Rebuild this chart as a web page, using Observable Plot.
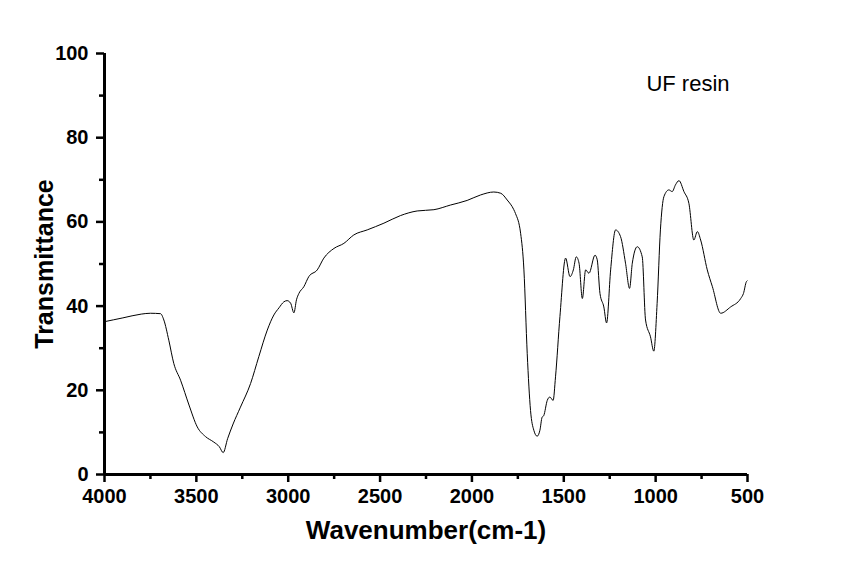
<!DOCTYPE html>
<html>
<head>
<meta charset="utf-8">
<script src="https://cdn.jsdelivr.net/npm/d3@7"></script>
<script src="https://cdn.jsdelivr.net/npm/@observablehq/plot@0.6"></script>
<style>
  html, body { margin: 0; padding: 0; background: #fff; }
  #chart svg { font-family: "Liberation Sans", Arial, sans-serif; }
  #chart svg [aria-label="x-axis tick label"] text,
  #chart svg [aria-label="y-axis tick label"] text { font-size: 20px; font-weight: bold; fill: #000; }
  #chart svg [aria-label="x-axis label"] text { font-size: 26px; font-weight: bold; fill: #000; }
  #chart svg [aria-label="y-axis label"] text { font-size: 25px; font-weight: bold; fill: #000; }
</style>
</head>
<body>
<div id="chart"></div>
<script>
// Wavenumber (cm-1) and transmittance
const wavenumber = [4000, 3900, 3800, 3750, 3695, 3677, 3650, 3623, 3586, 3540, 3495, 3450, 3405, 3375, 3354, 3330, 3300, 3260, 3205, 3160, 3114, 3078, 3050, 3024, 3006, 2987, 2969, 2955, 2942, 2915, 2888, 2842, 2806, 2751, 2697, 2643, 2570, 2479, 2389, 2298, 2207, 2117, 2026, 1953, 1881, 1843, 1808, 1772, 1763, 1735, 1717, 1699, 1681, 1663, 1645, 1630, 1618, 1609, 1590, 1576, 1558, 1545, 1521, 1490, 1466, 1448, 1432, 1417, 1399, 1381, 1363, 1330, 1318, 1303, 1282, 1267, 1245, 1218, 1191, 1164, 1142, 1127, 1100, 1073, 1055, 1028, 1010, 992, 974, 955, 928, 910, 892, 873, 846, 819, 792, 773, 755, 719, 691, 646, 592, 537, 522, 506, 502];
const transmittance = [36.3, 37.2, 38.1, 38.3, 38.2, 36.7, 31.9, 26.4, 22.4, 16.5, 11.3, 9.0, 7.7, 6.6, 5.2, 8.5, 12.0, 16.0, 21.6, 28.0, 34.3, 37.9, 39.6, 41.0, 41.3, 40.7, 38.4, 41.5, 43.0, 44.6, 47.0, 48.6, 51.4, 53.7, 54.9, 56.9, 58.1, 59.7, 61.5, 62.6, 62.9, 64.0, 65.1, 66.4, 67.1, 66.8, 65.2, 62.9, 62.0, 57.3, 48.6, 28.7, 15.2, 10.5, 9.1, 10.5, 13.6, 14.0, 17.6, 18.4, 17.6, 23.2, 37.5, 51.4, 47.0, 48.6, 51.7, 50.2, 41.8, 48.6, 47.8, 52.1, 51.0, 43.0, 39.8, 36.0, 48.6, 58.1, 56.5, 50.2, 44.2, 50.2, 54.1, 51.7, 36.7, 32.7, 29.3, 40.6, 58.1, 66.0, 67.6, 67.2, 68.8, 69.8, 67.2, 64.4, 55.7, 57.7, 55.7, 48.6, 44.6, 38.3, 39.8, 41.8, 43.0, 45.8, 46.0];

const xTicks = [4000, 3500, 3000, 2500, 2000, 1500, 1000, 500];
const xMinorTicks = [3750, 3250, 2750, 2250, 1750, 1250, 750];
const yTicks = [0, 20, 40, 60, 80, 100];
const yMinorTicks = [10, 30, 50, 70, 90];
const annotation = ["UF resin"];

const data = wavenumber.map((w, i) => ({w, t: transmittance[i]}));

const chart = Plot.plot({
  width: 844,
  height: 564,
  marginLeft: 104,
  marginRight: 97,
  marginTop: 53,
  marginBottom: 90,
  style: {fontFamily: "Liberation Sans, Arial, sans-serif", background: "#fff", color: "#000"},
  x: {domain: [4000, 500]},
  y: {domain: [0, 100]},
  marks: [
    Plot.axisX({ticks: xMinorTicks, tickSize: 5, strokeWidth: 2.5, text: null, label: null}),
    Plot.axisY({ticks: yMinorTicks, tickSize: 5, strokeWidth: 2.5, text: null, label: null}),
    Plot.axisX({ticks: xTicks, tickSize: 8, strokeWidth: 2.5, tickPadding: 6, tickFormat: d => String(d),
      label: "Wavenumber(cm-1)", labelAnchor: "center", labelArrow: "none", labelOffset: 64}),
    Plot.axisY({ticks: yTicks, tickSize: 8, strokeWidth: 2.5, tickPadding: 8, tickFormat: d => String(d),
      label: "Transmittance", labelAnchor: "center", labelArrow: "none", labelOffset: 69}),
    Plot.ruleY([0], {stroke: "#000", strokeWidth: 3}),
    Plot.ruleX([4000], {stroke: "#000", strokeWidth: 3}),
    Plot.line(data, {x: "w", y: "t", stroke: "#000", strokeWidth: 1, curve: "monotone-x"}),
    Plot.text(annotation, {text: d => d, frameAnchor: "top-right", dx: -18, dy: 22, textAnchor: "end", fontSize: 22, fill: "#000"})
  ]
});
document.getElementById("chart").appendChild(chart);
</script>
</body>
</html>
